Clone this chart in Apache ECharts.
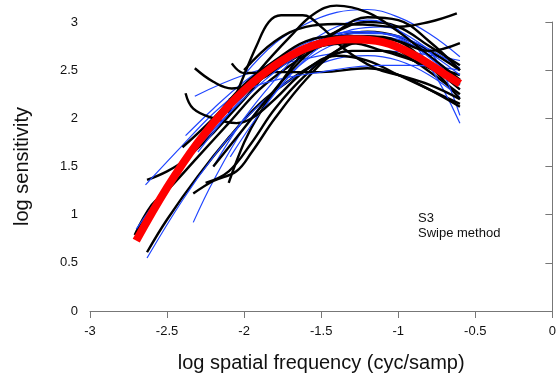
<!DOCTYPE html>
<html>
<head>
<meta charset="utf-8">
<script src="https://cdn.jsdelivr.net/npm/echarts@6/dist/echarts.min.js"></script>
<style>html,body{margin:0;padding:0;background:#fff}#c{width:559px;height:379px}</style>
</head>
<body>
<div id="c"></div>
<script>
// x tick values and y tick values
const xTicks = [-3, -2.5, -2, -1.5, -1, -0.5, 0];
const yTicks = [0, 0.5, 1, 1.5, 2, 2.5, 3];

// Black curves (individual measurements)
const black1 = [[-2.71,0.79],[-2.6,1.1],[-2.5,1.25],[-2.3,1.6],[-2.1,1.95],[-1.9,2.3],[-1.7,2.55],[-1.5,2.75],[-1.3,2.85],[-1.1,2.8],[-0.9,2.6],[-0.6,2.25]];
const black2 = [[-2.63,1.36],[-2.5,1.45],[-2.4,1.55],[-2.2,1.85],[-2.0,2.2],[-1.8,2.55],[-1.6,2.75],[-1.4,2.85],[-1.2,2.9],[-1.0,2.85],[-0.8,2.7],[-0.6,2.5]];
const black3 = [[-2.63,0.61],[-2.5,0.95],[-2.3,1.4],[-2.1,1.8],[-1.9,2.15],[-1.7,2.4],[-1.5,2.6],[-1.3,2.7],[-1.1,2.7],[-0.9,2.6],[-0.6,2.35]];
const black4 = [[-2.33,1.22],[-2.2,1.35],[-2.05,1.45],[-1.95,1.65],[-1.8,2.0],[-1.6,2.4],[-1.4,2.7],[-1.2,2.85],[-1.0,2.8],[-0.8,2.55],[-0.6,2.2]];
const black5 = [[-2.25,1.33],[-2.1,1.45],[-1.95,1.75],[-1.8,2.1],[-1.6,2.45],[-1.4,2.7],[-1.2,2.8],[-1.0,2.75],[-0.8,2.55],[-0.6,2.3]];
const black6 = [[-2.10,1.33],[-2.0,1.75],[-1.9,2.05],[-1.75,2.4],[-1.6,2.7],[-1.4,2.9],[-1.2,3.0],[-1.0,2.95],[-0.8,2.75],[-0.6,2.55]];
const black7 = [[-2.38,2.26],[-2.33,2.1],[-2.2,2.0],[-2.05,1.95],[-1.95,2.0],[-1.8,2.2],[-1.6,2.5],[-1.4,2.65],[-1.2,2.6],[-1.0,2.45],[-0.8,2.3],[-0.6,2.15]];
const black8 = [[-2.08,2.57],[-2.0,2.47],[-1.8,2.48],[-1.5,2.48],[-1.2,2.52],[-1.0,2.45],[-0.8,2.3],[-0.6,2.12]];
const black9 = [[-2.32,2.52],[-2.2,2.38],[-2.08,2.31],[-1.9,2.4],[-1.7,2.6],[-1.5,2.75],[-1.3,2.78],[-1.1,2.7],[-0.9,2.6],[-0.6,2.45]];
const black10 = [[-2.1,2.05],[-2.0,2.45],[-1.92,2.75],[-1.84,3.0],[-1.76,3.07],[-1.62,3.07],[-1.5,2.95],[-1.35,2.72],[-1.15,2.52],[-1.0,2.45],[-0.8,2.35],[-0.6,2.2]];
const black11 = [[-2.1,2.1],[-1.9,2.5],[-1.7,2.85],[-1.55,3.08],[-1.4,3.17],[-1.2,3.1],[-1.0,2.9],[-0.8,2.65],[-0.6,2.4]];
const black12 = [[-2.0,2.5],[-1.8,2.8],[-1.6,2.95],[-1.4,2.98],[-1.2,2.97],[-1.0,2.95],[-0.8,3.0],[-0.62,3.09]];
const black13 = [[-2.2,1.5],[-2.0,1.9],[-1.8,2.3],[-1.6,2.65],[-1.4,2.9],[-1.2,3.05],[-1.0,3.02],[-0.8,2.8],[-0.6,2.5]];
const black14 = [[-2.4,1.7],[-2.2,2.0],[-2.0,2.35],[-1.8,2.6],[-1.6,2.8],[-1.4,2.85],[-1.2,2.85],[-1.0,2.8],[-0.8,2.7],[-0.6,2.78]];

// Blue curves (fitted)
const blue1 = [[-2.32,2.23],[-2.0,2.45],[-1.6,2.62],[-1.2,2.7],[-0.9,2.68],[-0.6,2.6]];
const blue2 = [[-2.33,0.92],[-2.2,1.35],[-2.0,1.9],[-1.8,2.3],[-1.6,2.6],[-1.4,2.78],[-1.2,2.85],[-1.0,2.82],[-0.8,2.65],[-0.6,2.4]];
const blue3 = [[-2.63,0.55],[-2.4,1.15],[-2.2,1.6],[-2.0,1.98],[-1.8,2.28],[-1.6,2.5],[-1.4,2.62],[-1.2,2.65],[-1.0,2.6],[-0.8,2.45],[-0.6,2.22]];
const blue4 = [[-2.64,1.31],[-2.4,1.72],[-2.2,2.05],[-2.0,2.32],[-1.8,2.55],[-1.6,2.72],[-1.4,2.8],[-1.2,2.8],[-1.0,2.72],[-0.8,2.55],[-0.6,2.3]];
const blue5 = [[-2.38,1.82],[-2.2,2.1],[-2.0,2.38],[-1.8,2.6],[-1.6,2.78],[-1.4,2.88],[-1.2,2.9],[-1.0,2.85],[-0.8,2.72],[-0.6,2.52]];
const blue6 = [[-2.09,1.6],[-1.9,2.05],[-1.7,2.45],[-1.5,2.75],[-1.3,2.92],[-1.1,2.95],[-0.9,2.82],[-0.75,2.6],[-0.6,2.03]];
const blue7 = [[-2.2,1.5],[-2.0,2.0],[-1.8,2.4],[-1.6,2.75],[-1.4,2.95],[-1.2,3.02],[-1.0,2.92],[-0.8,2.55],[-0.6,1.95]];
const blue8 = [[-2.0,2.45],[-1.8,2.78],[-1.6,2.98],[-1.4,3.1],[-1.2,3.13],[-1.0,3.05],[-0.8,2.88],[-0.6,2.64]];
const blue9 = [[-2.1,2.2],[-1.9,2.35],[-1.7,2.43],[-1.5,2.48],[-1.3,2.53],[-1.1,2.55],[-0.9,2.55],[-0.6,2.5]];
const blue10 = [[-2.7,0.85],[-2.5,1.3],[-2.3,1.7],[-2.1,2.05],[-1.9,2.35],[-1.7,2.6],[-1.5,2.78],[-1.3,2.88],[-1.1,2.88],[-0.9,2.78],[-0.6,2.45]];
const blue11 = [[-2.3,1.65],[-2.1,2.05],[-1.9,2.4],[-1.7,2.65],[-1.5,2.82],[-1.3,2.9],[-1.1,2.88],[-0.9,2.75],[-0.6,2.35]];

// Red mean curve
const redMean = [[-2.7,0.73],[-2.5,1.28],[-2.3,1.75],[-2.1,2.13],[-1.9,2.43],[-1.7,2.65],[-1.5,2.78],[-1.3,2.82],[-1.1,2.79],[-0.9,2.66],[-0.7,2.46],[-0.6,2.36]];

const blacks = [black1,black2,black3,black4,black5,black6,black7,black8,black9,black10,black11,black12,black13,black14];
const blues = [blue1,blue2,blue3,blue4,blue5,blue6,blue7,blue8,blue9,blue10,blue11];

const series = [];
const n = Math.max(blacks.length, blues.length);
for (let i = 0; i < n; i++) {
  if (blacks[i]) series.push({type:'line', data:blacks[i], smooth:0.4, showSymbol:false, clip:false, lineStyle:{color:'#000', width:2.4}, z:2, silent:true});
  if (blues[i]) series.push({type:'line', data:blues[i], smooth:0.4, showSymbol:false, clip:false, lineStyle:{color:'#1f45ff', width:1.2}, z:2, silent:true});
}
series.push({type:'line', data:redMean, smooth:0.4, showSymbol:false, clip:false, lineStyle:{color:'#ff0000', width:8}, z:3, silent:true});

const chart = echarts.init(document.getElementById('c'), null, {renderer:'canvas'});
const font = '"Liberation Sans", Arial, sans-serif';
chart.setOption({
  animation:false,
  grid:{left:90, right:3, top:22, bottom:68, containLabel:false},
  xAxis:{type:'value', min:xTicks[0], max:xTicks[xTicks.length-1], interval:0.5,
    name:'log spatial frequency (cyc/samp)', nameLocation:'middle', nameGap:42,
    nameTextStyle:{fontFamily:font, fontSize:20, color:'#111'},
    axisLine:{lineStyle:{color:'#777', width:1}},
    axisTick:{show:true, length:7, lineStyle:{color:'#777'}},
    axisLabel:{fontFamily:font, fontSize:13, color:'#111', margin:14, showMaxLabel:true, showMinLabel:true},
    splitLine:{show:false}},
  yAxis:{type:'value', min:yTicks[0], max:yTicks[yTicks.length-1], interval:0.5,
    name:'log sensitivity', nameLocation:'middle', nameGap:58, nameRotate:90,
    nameTextStyle:{fontFamily:font, fontSize:20, color:'#111'},
    axisLine:{show:true, lineStyle:{color:'#777', width:1}},
    axisTick:{show:true, length:7, lineStyle:{color:'#777'}},
    axisLabel:{fontFamily:font, fontSize:13, color:'#111', margin:12},
    splitLine:{show:false}},
  graphic:[{type:'text', left:418, top:211, style:{text:'S3\nSwipe method', font:'13px "Liberation Sans", Arial, sans-serif', fill:'#111', lineHeight:15}}],
  series: series
});
</script>
</body>
</html>
